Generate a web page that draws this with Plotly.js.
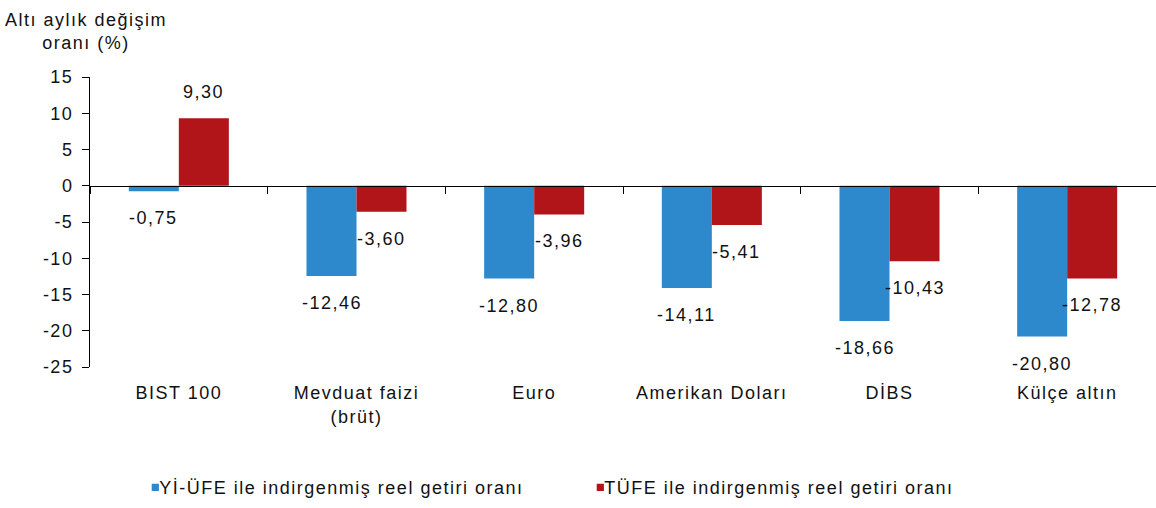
<!DOCTYPE html>
<html>
<head>
<meta charset="utf-8">
<script src="https://cdn.plot.ly/plotly-3.0.1.min.js"></script>
<style>
  html, body { margin: 0; padding: 0; background: #fff; }
  #chart { width: 1156px; height: 508px; }
  svg text { letter-spacing: 1.5px; }
  .legendpoints path { transform: translate(36px, 0px) scale(0.6); }
</style>
</head>
<body>
<div id="chart"></div>
<script>
const categories = ['BIST 100', 'Mevduat faizi<br>(brüt)', 'Euro', 'Amerikan Doları', 'DİBS', 'Külçe altın'];
const yiufeValues = [-0.75, -12.46, -12.80, -14.11, -18.66, -20.80];
const tufeValues = [9.30, -3.60, -3.96, -5.41, -10.43, -12.78];
const seriesNames = ['Yİ-ÜFE ile indirgenmiş reel getiri oranı', 'TÜFE ile indirgenmiş reel getiri oranı'];
const yTickVals = [-25, -20, -15, -10, -5, 0, 5, 10, 15];
const yTickText = ['-25', '-20', '-15', '-10', '-5', '0', '5', '10', '15'];
const yTitle = 'Altı aylık değişim<br>oranı (%)';

const BLUE = '#2E88CC';
const RED = '#B11519';
const FONT = 'Liberation Sans, Arial, sans-serif';
const TXT = '#111';

const fmt = v => v.toFixed(2).replace('.', ',');

const traces = [
  { type: 'bar', name: seriesNames[0], x: categories, y: yiufeValues, marker: { color: BLUE }, hoverinfo: 'skip' },
  { type: 'bar', name: seriesNames[1], x: categories, y: tufeValues, marker: { color: RED }, hoverinfo: 'skip' }
];

const annotations = [];
[[yiufeValues, -25], [tufeValues, 25]].forEach(([vals, xs]) => {
  vals.forEach((v, i) => {
    annotations.push({
      x: i, y: v, xref: 'x', yref: 'y', text: fmt(v), showarrow: false,
      xshift: xs, yshift: v >= 0 ? 26 : -27,
      font: { family: FONT, size: 18, color: TXT }
    });
  });
});
annotations.push({
  x: 0, y: 1, xref: 'paper', yref: 'paper', xanchor: 'center', yanchor: 'bottom',
  xshift: -4, yshift: 22, text: yTitle, showarrow: false, align: 'center',
  font: { family: FONT, size: 18, color: TXT }
});

const layout = {
  width: 1156, height: 508,
  margin: { l: 90, r: 0, t: 77, b: 141 },
  paper_bgcolor: '#fff', plot_bgcolor: '#fff',
  font: { family: FONT, size: 18, color: TXT },
  barmode: 'group', bargap: 0.437, bargroupgap: 0,
  showlegend: true,
  legend: {
    orientation: 'h', x: 0.0275, xanchor: 'left', y: 0.04, yref: 'container', yanchor: 'middle',
    entrywidth: 400, entrywidthmode: 'pixels',
    font: { family: FONT, size: 18, color: TXT }
  },
  xaxis: {
    type: 'category', anchor: 'free', position: 0.625, range: [-0.5, 5.5],
    showline: true, linecolor: '#000', linewidth: 1,
    ticks: 'outside', tickson: 'boundaries', ticklen: 7, tickcolor: '#000',
    ticklabelstandoff: 191, showgrid: false, zeroline: false,
    tickfont: { family: FONT, size: 18, color: TXT }
  },
  yaxis: {
    range: [-25, 15], tickmode: 'array', tickvals: yTickVals, ticktext: yTickText,
    showline: true, linecolor: '#000', linewidth: 1,
    ticks: 'outside', ticklen: 7, tickcolor: '#000', ticklabelstandoff: 5,
    showgrid: false, zeroline: false,
    tickfont: { family: FONT, size: 18, color: TXT }
  },
  annotations: annotations
};

Plotly.newPlot('chart', traces, layout, { displayModeBar: false, staticPlot: true });
</script>
</body>
</html>
